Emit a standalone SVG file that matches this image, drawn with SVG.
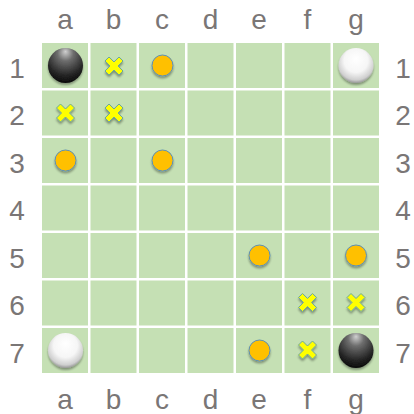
<svg xmlns="http://www.w3.org/2000/svg" width="414" height="414" viewBox="0 0 414 414">
<style>
.cell{fill:#C5E0B4}
.lbl{font-family:"Liberation Sans",Arial,sans-serif;font-size:28px;fill:#7a7676;text-anchor:middle}
.dot{fill:#FFC000;stroke:#5B8FB5;stroke-width:1}
.x{fill:#FFFF00;stroke:#6AA89A;stroke-width:1}
</style>
<defs>
<radialGradient id="gb" cx="50%" cy="25%" r="75%" fx="50%" fy="10%">
<stop offset="0" stop-color="#d0d0d0"/>
<stop offset="0.3" stop-color="#6e6e6e"/>
<stop offset="0.75" stop-color="#262626"/>
<stop offset="1" stop-color="#0a0a0a"/>
</radialGradient>
<radialGradient id="gw" cx="50%" cy="40%" r="62%" fx="50%" fy="30%">
<stop offset="0" stop-color="#ffffff"/>
<stop offset="0.55" stop-color="#f6f6f6"/>
<stop offset="0.85" stop-color="#cfcfcf"/>
<stop offset="1" stop-color="#8a8a8a"/>
</radialGradient>
<filter id="sh" x="-30%" y="-30%" width="160%" height="170%">
<feGaussianBlur in="SourceAlpha" stdDeviation="1.2"/>
<feOffset dy="1.5"/>
<feComponentTransfer><feFuncA type="linear" slope="0.35"/></feComponentTransfer>
<feMerge><feMergeNode/><feMergeNode in="SourceGraphic"/></feMerge>
</filter>
<circle id="o" r="10.5" class="dot"/>
<path id="xm" class="x" d="M-9,-5 L-5,-9 L0,-4 L5,-9 L9,-5 L4,0 L9,5 L5,9 L0,4 L-5,9 L-9,5 L-4,0 Z"/>
</defs>
<rect width="414" height="414" fill="#fff"/>
<g id="board">
<g id="cells">
<rect class="cell" x="42" y="43" width="46" height="45"/><rect class="cell" x="90.5" y="43" width="46" height="45"/><rect class="cell" x="139" y="43" width="46" height="45"/><rect class="cell" x="187.5" y="43" width="46" height="45"/><rect class="cell" x="236" y="43" width="46" height="45"/><rect class="cell" x="284.5" y="43" width="46" height="45"/><rect class="cell" x="333" y="43" width="46" height="45"/>
<rect class="cell" x="42" y="90.5" width="46" height="45"/><rect class="cell" x="90.5" y="90.5" width="46" height="45"/><rect class="cell" x="139" y="90.5" width="46" height="45"/><rect class="cell" x="187.5" y="90.5" width="46" height="45"/><rect class="cell" x="236" y="90.5" width="46" height="45"/><rect class="cell" x="284.5" y="90.5" width="46" height="45"/><rect class="cell" x="333" y="90.5" width="46" height="45"/>
<rect class="cell" x="42" y="138" width="46" height="45"/><rect class="cell" x="90.5" y="138" width="46" height="45"/><rect class="cell" x="139" y="138" width="46" height="45"/><rect class="cell" x="187.5" y="138" width="46" height="45"/><rect class="cell" x="236" y="138" width="46" height="45"/><rect class="cell" x="284.5" y="138" width="46" height="45"/><rect class="cell" x="333" y="138" width="46" height="45"/>
<rect class="cell" x="42" y="185.5" width="46" height="45"/><rect class="cell" x="90.5" y="185.5" width="46" height="45"/><rect class="cell" x="139" y="185.5" width="46" height="45"/><rect class="cell" x="187.5" y="185.5" width="46" height="45"/><rect class="cell" x="236" y="185.5" width="46" height="45"/><rect class="cell" x="284.5" y="185.5" width="46" height="45"/><rect class="cell" x="333" y="185.5" width="46" height="45"/>
<rect class="cell" x="42" y="233" width="46" height="45"/><rect class="cell" x="90.5" y="233" width="46" height="45"/><rect class="cell" x="139" y="233" width="46" height="45"/><rect class="cell" x="187.5" y="233" width="46" height="45"/><rect class="cell" x="236" y="233" width="46" height="45"/><rect class="cell" x="284.5" y="233" width="46" height="45"/><rect class="cell" x="333" y="233" width="46" height="45"/>
<rect class="cell" x="42" y="280.5" width="46" height="45"/><rect class="cell" x="90.5" y="280.5" width="46" height="45"/><rect class="cell" x="139" y="280.5" width="46" height="45"/><rect class="cell" x="187.5" y="280.5" width="46" height="45"/><rect class="cell" x="236" y="280.5" width="46" height="45"/><rect class="cell" x="284.5" y="280.5" width="46" height="45"/><rect class="cell" x="333" y="280.5" width="46" height="45"/>
<rect class="cell" x="42" y="328" width="46" height="45"/><rect class="cell" x="90.5" y="328" width="46" height="45"/><rect class="cell" x="139" y="328" width="46" height="45"/><rect class="cell" x="187.5" y="328" width="46" height="45"/><rect class="cell" x="236" y="328" width="46" height="45"/><rect class="cell" x="284.5" y="328" width="46" height="45"/><rect class="cell" x="333" y="328" width="46" height="45"/>
</g>
<g id="labels">
<text class="lbl" x="65" y="29">a</text><text class="lbl" x="113.5" y="29">b</text><text class="lbl" x="162" y="29">c</text><text class="lbl" x="210.5" y="29">d</text><text class="lbl" x="259" y="29">e</text><text class="lbl" x="307.5" y="29">f</text><text class="lbl" x="356" y="29">g</text>
<text class="lbl" x="65" y="409">a</text><text class="lbl" x="113.5" y="409">b</text><text class="lbl" x="162" y="409">c</text><text class="lbl" x="210.5" y="409">d</text><text class="lbl" x="259" y="409">e</text><text class="lbl" x="307.5" y="409">f</text><text class="lbl" x="356" y="409">g</text>
<text class="lbl" x="17" y="78">1</text><text class="lbl" x="17" y="125">2</text><text class="lbl" x="17" y="173">3</text><text class="lbl" x="17" y="220">4</text><text class="lbl" x="17" y="268">5</text><text class="lbl" x="17" y="315">6</text><text class="lbl" x="17" y="363">7</text>
<text class="lbl" x="403" y="78">1</text><text class="lbl" x="403" y="125">2</text><text class="lbl" x="403" y="173">3</text><text class="lbl" x="403" y="220">4</text><text class="lbl" x="403" y="268">5</text><text class="lbl" x="403" y="315">6</text><text class="lbl" x="403" y="363">7</text>
</g>
</g>
<g id="stones" filter="url(#sh)">
<circle id="a1" cx="65.5" cy="65.5" r="17.5" fill="url(#gb)"/>
<circle id="g7" cx="356" cy="350.5" r="17.5" fill="url(#gb)"/>
<circle id="g1" cx="356" cy="65.5" r="17.5" fill="url(#gw)"/>
<circle id="a7" cx="65.5" cy="350.5" r="17.5" fill="url(#gw)"/>
</g>
<g id="dots" filter="url(#sh)">
<use href="#o" x="162.5" y="65.5"/>
<use href="#o" x="65.5" y="160.5"/>
<use href="#o" x="162.5" y="160.5"/>
<use href="#o" x="259.5" y="255.5"/>
<use href="#o" x="356" y="255.5"/>
<use href="#o" x="259.5" y="350.5"/>
</g>
<g id="crosses" filter="url(#sh)">
<use href="#xm" x="114" y="66"/>
<use href="#xm" x="65.5" y="113"/>
<use href="#xm" x="114" y="113"/>
<use href="#xm" x="307.5" y="302.5"/>
<use href="#xm" x="356" y="302.5"/>
<use href="#xm" x="307.5" y="350"/>
</g>
</svg>
